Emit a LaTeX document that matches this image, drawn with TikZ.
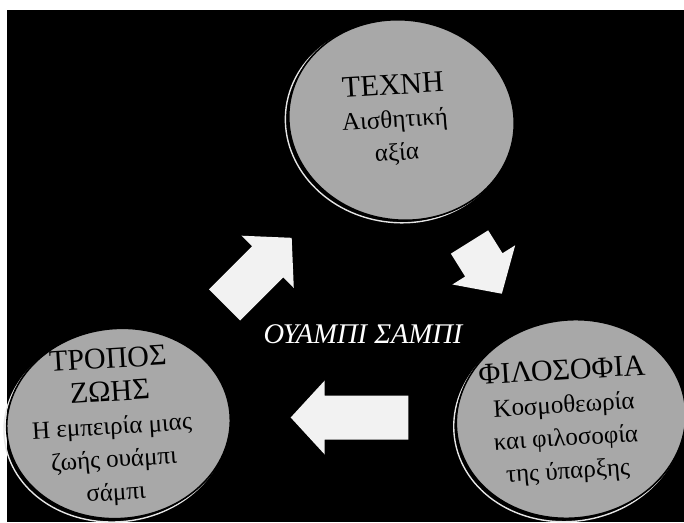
\documentclass[tikz,border=0pt]{standalone}
\usepackage{fontspec}
\setmainfont{Liberation Serif}
\usepackage{xcolor}
\usepackage{tikz}
\usetikzlibrary{calc,positioning}
\definecolor{discGrey}{RGB}{168,168,168}
\definecolor{arrowWhite}{RGB}{242,242,242}
\tikzset{
  discFace/.style={fill=discGrey, draw=black, line width=1.6pt}, % grey face of a disc
  discRim/.style={draw=white!90!black, line width=1.4pt},       % light rim, lower left
  blockArrow/.style={fill=arrowWhite},
  discText/.style={align=center, font=\fontsize{25}{33}\selectfont, text=black, inner sep=0pt, rotate=3.5},
  cycleText/.style={font=\fontsize{28.5}{33}\selectfont\itshape, text=white, inner sep=0pt}
}
\newcommand{\CapsLine}[1]{{\fontsize{30}{33}\selectfont #1}}
\newcommand{\DrawDisc}[4]{% centre, rx, ry, tilt
  \begin{scope}[shift={#1}, rotate=#4]
    \draw[discRim] (-3,-3) ellipse ({#2} and {#3});
    \draw[discFace] (0,0) ellipse ({#2} and {#3});
  \end{scope}%
}
\newcommand{\DrawBlockArrow}[3]{% tail, direction, length
  \begin{scope}[shift={#1}, rotate=#2]
    \fill[blockArrow] (0,-22) -- ({#3-34},-22) -- ({#3-34},-37) -- (#3,0)
      -- ({#3-34},37) -- ({#3-34},22) -- (0,22) -- cycle;
  \end{scope}%
}
\begin{document}
\begin{tikzpicture}[x=1pt,y=1pt]
  \useasboundingbox (0,0) rectangle (684,522);
  \fill[white] (0,0) rectangle (684,522);
  \fill[black] (7,0) rectangle (684,512);
  % The three discs
  \DrawDisc{(401.5,402)}{113}{100}{-8}
  \DrawDisc{(118.5,98.5)}{112}{95}{6}
  \DrawDisc{(571,103)}{115}{99}{8}
  % Their texts
  \node[discText] (techne) at (395,402) {\CapsLine{ΤΕΧΝΗ}\\Αισθητική\\αξία};
  \node[discText] (tropos) at (112,95) {\CapsLine{ΤΡΟΠΟΣ}\\\CapsLine{ΖΩΗΣ}\\Η εμπειρία μιας\\ζωής ουάμπι\\σάμπι};
  \node[discText] (filosofia) at (565,100) {\CapsLine{ΦΙΛΟΣΟΦΙΑ}\\Κοσμοθεωρία\\και φιλοσοφία\\της ύπαρξης};
  % Cycle of block arrows
  \DrawBlockArrow{(224.5,217)}{45}{95}
  \DrawBlockArrow{(469.5,280)}{-58}{61}
  \DrawBlockArrow{(408.3,104.5)}{180}{117.6}
  \node[cycleText, anchor=base] (title) at (363,178.7) {ΟΥΑΜΠΙ ΣΑΜΠΙ};
\end{tikzpicture}
\end{document}
